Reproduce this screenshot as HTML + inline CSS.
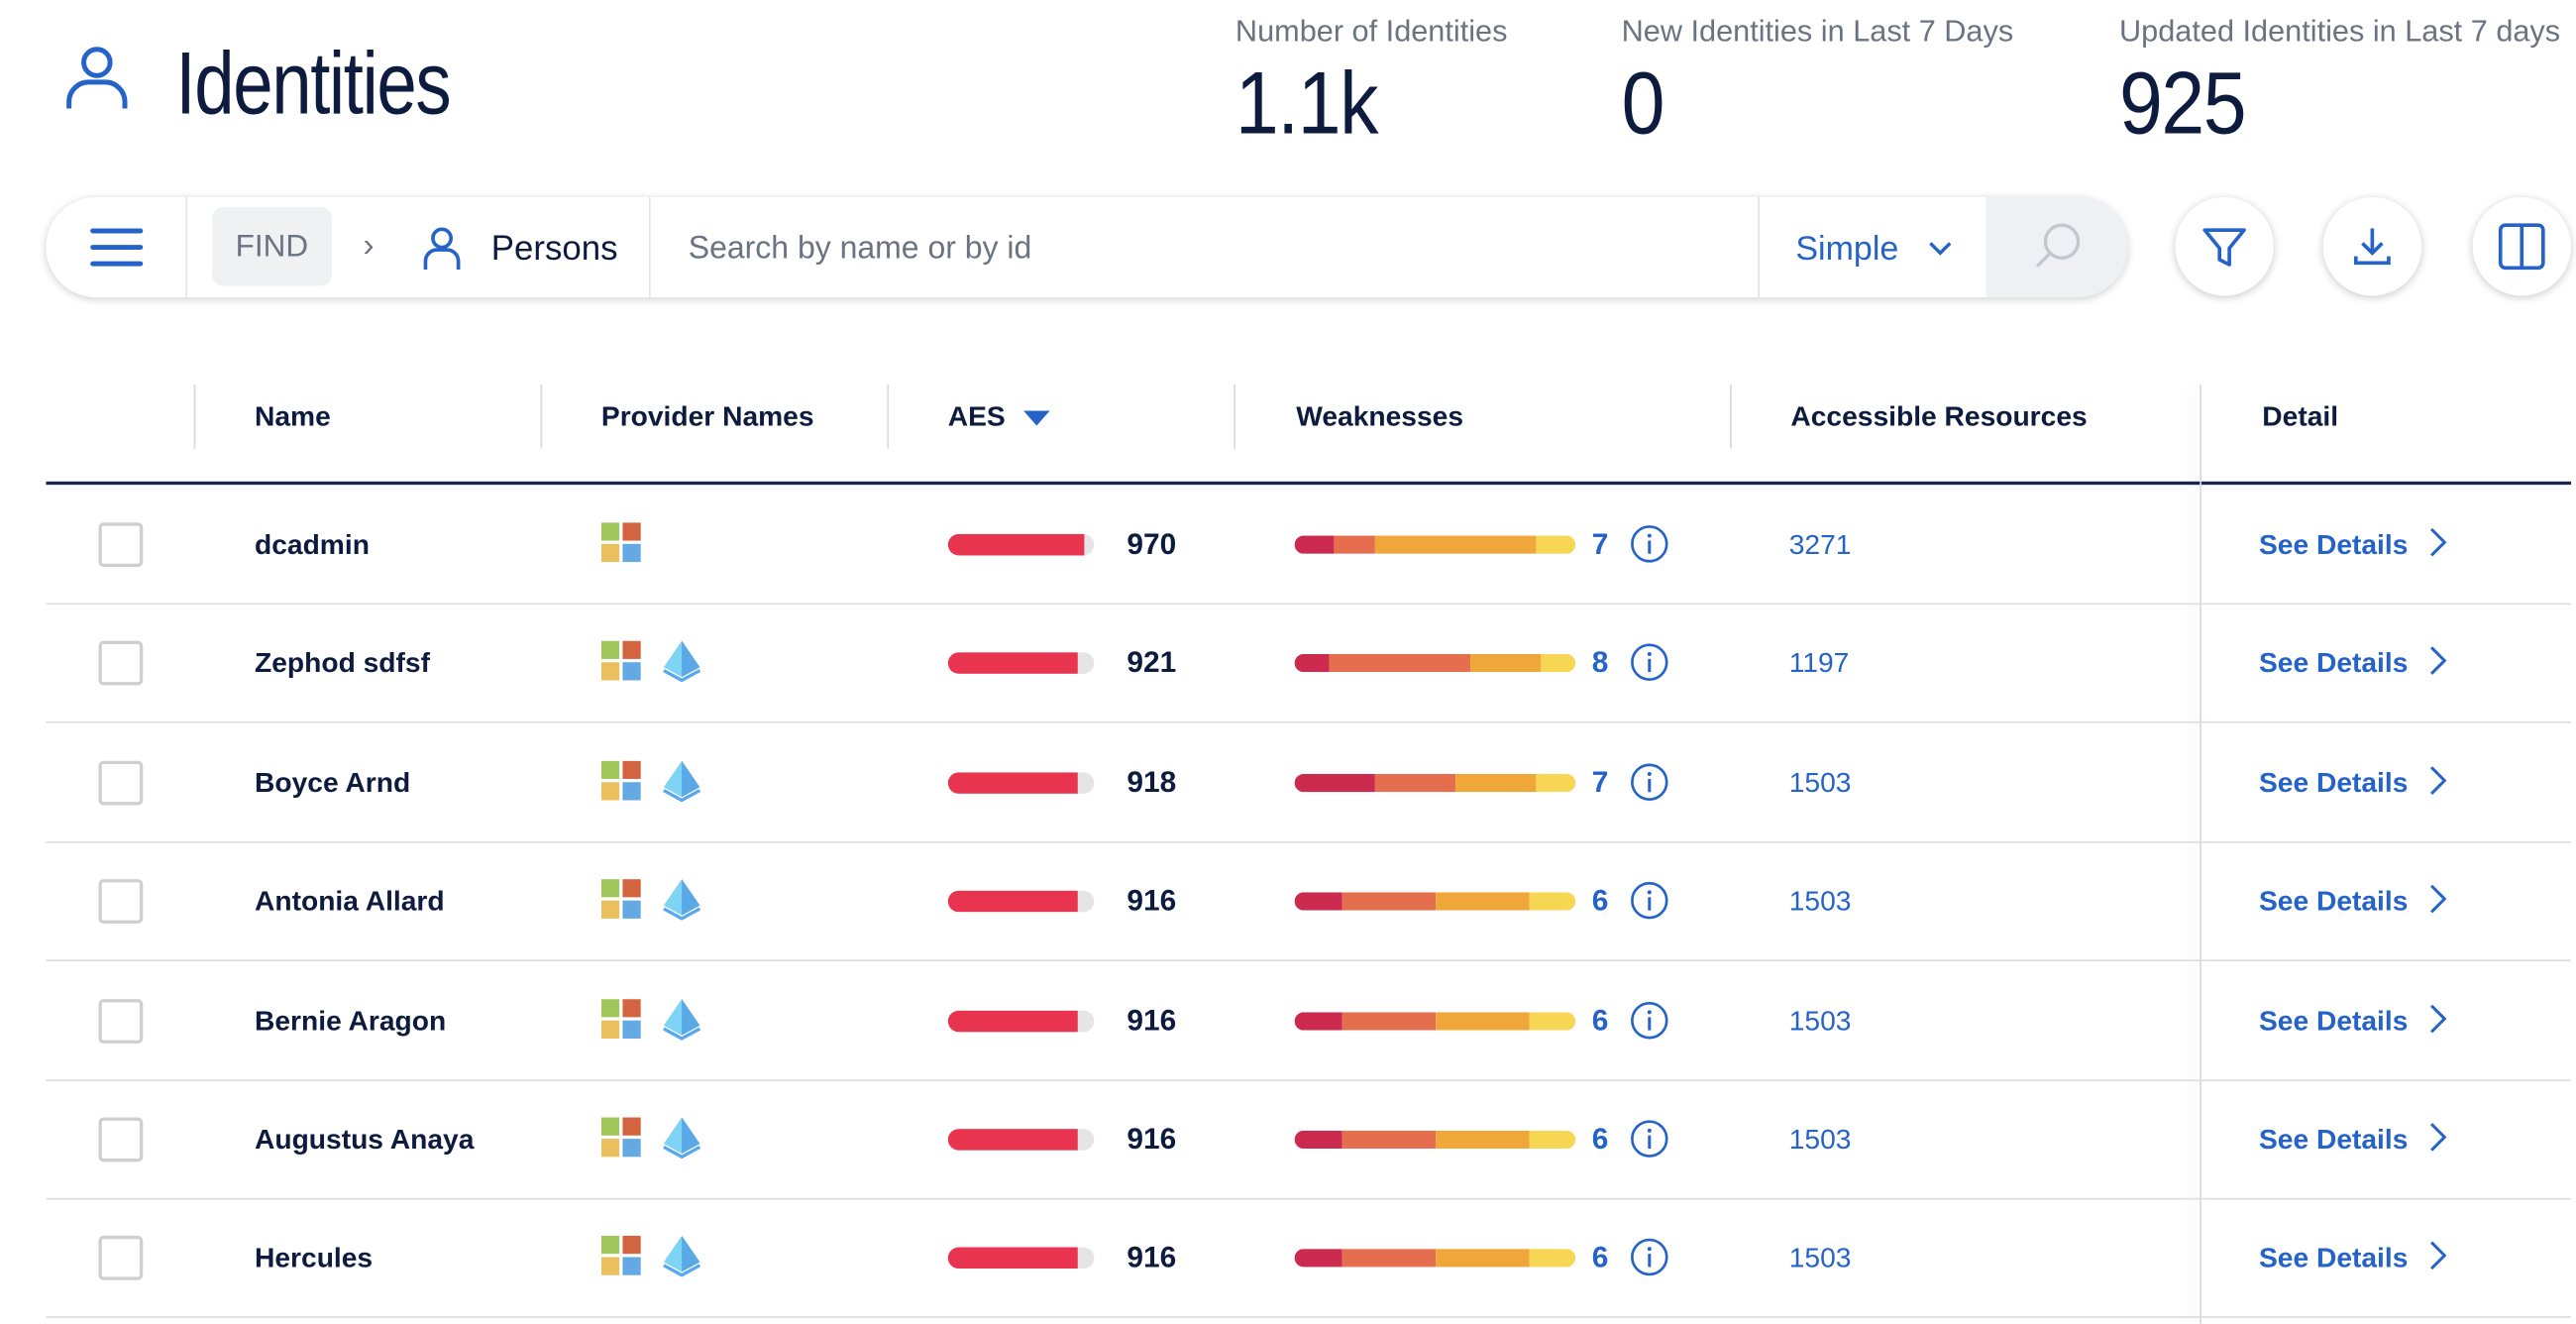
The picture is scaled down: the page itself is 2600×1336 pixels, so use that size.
<!DOCTYPE html>
<html><head><meta charset="utf-8"><style>
html,body{margin:0;padding:0;width:2600px;height:1336px;overflow:hidden;background:#fff}
#root{position:absolute;left:0;top:0;width:1568px;height:806px;transform:scale(1.65816);transform-origin:0 0;font-family:"Liberation Sans",sans-serif;color:#0d1b3e}
.abs{position:absolute}
.lbl{font-size:18.5px;color:#6b7280;white-space:nowrap}
.big{font-size:54px;color:#0d1b3e;white-space:nowrap;transform:scaleX(0.88);transform-origin:0 0;letter-spacing:-1px}
.hdr{font-size:17px;font-weight:bold;white-space:nowrap;top:244px}
.vdiv{position:absolute;top:234px;height:39px;width:1px;background:#d6d9de}
.circ{position:absolute;top:120px;width:60px;height:60px;border-radius:50%;background:#fff;box-shadow:0 1px 5px rgba(0,0,0,.22)}
</style></head><body>
<div id="root">
<svg class="abs" style="left:38px;top:26px" width="42" height="42" viewBox="0 0 42 42"><circle cx="21" cy="12" r="8" fill="none" stroke="#2563c9" stroke-width="3"/><path d="M4 40 V36 a12 12 0 0 1 12-12 h10 a12 12 0 0 1 12 12 V40" fill="none" stroke="#2563c9" stroke-width="3"/></svg>
<div class="abs" style="left:107px;top:20px;font-size:54px;white-space:nowrap;transform:scaleX(0.81);transform-origin:0 0;letter-spacing:-1px">Identities</div>

<div class="abs lbl" style="left:752px;top:8px">Number of Identities</div>
<div class="abs big" style="left:752px;top:32px">1.1k</div>
<div class="abs lbl" style="left:987px;top:8px">New Identities in Last 7 Days</div>
<div class="abs big" style="left:987px;top:32px">0</div>
<div class="abs lbl" style="left:1290px;top:8px">Updated Identities in Last 7 days</div>
<div class="abs big" style="left:1290px;top:32px">925</div>

<div class="abs" style="left:28px;top:120px;width:1267px;height:61px;border-radius:31px;background:#fff;box-shadow:0 1px 5px rgba(0,0,0,.2);overflow:hidden">
  <div class="abs" style="left:27px;top:19px;width:32px;height:24px">
    <div class="abs" style="left:0;top:0;width:32px;height:3px;background:#2563c9;border-radius:2px"></div>
    <div class="abs" style="left:0;top:10px;width:32px;height:3px;background:#2563c9;border-radius:2px"></div>
    <div class="abs" style="left:0;top:20px;width:32px;height:3px;background:#2563c9;border-radius:2px"></div>
  </div>
  <div class="abs" style="left:85px;top:0;width:1px;height:61px;background:#e1e4e8"></div>
  <div class="abs" style="left:101px;top:6px;width:73px;height:48px;border-radius:7px;background:#f0f1f3;color:#6b7280;font-size:19px;line-height:50px;text-align:center">FIND</div>
  <div class="abs" style="left:193px;top:19px;color:#6b7280;font-size:20px">›</div>
  <svg class="abs" style="left:229px;top:17px" width="24" height="28" viewBox="0 0 24 28"><circle cx="12" cy="8" r="5.5" fill="none" stroke="#2563c9" stroke-width="2.2"/><path d="M2 27 V22 a7 7 0 0 1 7-7 h6 a7 7 0 0 1 7 7 V27" fill="none" stroke="#2563c9" stroke-width="2.2"/></svg>
  <div class="abs" style="left:271px;top:20px;font-size:21px;color:#0d1b3e">Persons</div>
  <div class="abs" style="left:367px;top:0;width:1px;height:61px;background:#e1e4e8"></div>
  <div class="abs" style="left:391px;top:21px;font-size:19.3px;color:#6b7280">Search by name or by id</div>
  <div class="abs" style="left:1042px;top:0;width:1px;height:61px;background:#e1e4e8"></div>
  <div class="abs" style="left:1065px;top:20px;font-size:20.5px;color:#2563c9">Simple</div>
  <svg class="abs" style="left:1145px;top:26px" width="16" height="10" viewBox="0 0 16 10"><path d="M2 2 L8 8 L14 2" fill="none" stroke="#2563c9" stroke-width="2"/></svg>
  <div class="abs" style="left:1181px;top:0;width:86px;height:61px;background:#eef0f3">
    <svg class="abs" style="left:28px;top:14px" width="32" height="32" viewBox="0 0 32 32"><circle cx="18" cy="13" r="10" fill="none" stroke="#c3c8cf" stroke-width="2"/><path d="M11 20 L3 28" stroke="#c3c8cf" stroke-width="2"/></svg>
  </div>
</div>

<div class="circ" style="left:1324px"><svg class="abs" style="left:15px;top:15px" width="30" height="30" viewBox="0 0 30 30"><path d="M3 5 H27 L18 16 V26 L12 23 V16 Z" fill="none" stroke="#2563c9" stroke-width="2.2" stroke-linejoin="round"/></svg></div>
<div class="circ" style="left:1414px"><svg class="abs" style="left:15px;top:15px" width="30" height="30" viewBox="0 0 30 30"><path d="M15 4 V19 M9 13 L15 19 L21 13 M5 21 V25 H25 V21" fill="none" stroke="#2563c9" stroke-width="2.2"/></svg></div>
<div class="circ" style="left:1505px"><svg class="abs" style="left:14px;top:14px" width="32" height="32" viewBox="0 0 32 32"><rect x="3" y="3" width="26" height="26" rx="3" fill="none" stroke="#2563c9" stroke-width="2.2"/><path d="M16 3 V29" stroke="#2563c9" stroke-width="2.2"/></svg></div>

<div class="vdiv" style="left:118px"></div><div class="vdiv" style="left:329px"></div><div class="vdiv" style="left:540px"></div><div class="vdiv" style="left:751px"></div><div class="vdiv" style="left:1053px"></div>
<div class="abs hdr" style="left:155px">Name</div>
<div class="abs hdr" style="left:366px">Provider Names</div>
<div class="abs hdr" style="left:577px">AES</div>
<svg class="abs" style="left:623px;top:250px" width="16" height="10"><path d="M0 0 H16 L8 9 Z" fill="#2563c9"/></svg>
<div class="abs hdr" style="left:789px">Weaknesses</div>
<div class="abs hdr" style="left:1090px">Accessible Resources</div>
<div class="abs hdr" style="left:1377px">Detail</div>
<div class="abs" style="left:28px;top:293px;width:1537px;height:2px;background:#1a2550"></div>
<div class="abs" style="left:1339px;top:234px;width:1px;height:572px;background:#d6d9de;box-shadow:-4px 0 8px rgba(0,0,0,.12)"></div>
<div id="rows"></div>
</div>
<script>
const names=["dcadmin","Zephod sdfsf","Boyce Arnd","Antonia Allard","Bernie Aragon","Augustus Anaya","Hercules"];
const hasAzure=[false,true,true,true,true,true,true];
const aes=[970,921,918,916,916,916,916];
const weakCritical=[1,1,2,1,1,1,1];
const weakHigh=[1,4,2,2,2,2,2];
const weakMedium=[4,2,2,2,2,2,2];
const weakLow=[1,1,1,1,1,1,1];
const resources=[3271,1197,1503,1503,1503,1503,1503];
const root=document.getElementById('rows');
const ROW0=331, ROWH=72.4;
function rowY(i){return ROW0+i*ROWH;}
function aesX(v){return v/1000*86;}
function mk(html,style){const d=document.createElement('div');d.className='abs';d.style.cssText=style;if(html)d.innerHTML=html;root.appendChild(d);return d;}
const segColors=['#cc2a4f','#e56e4f','#f0a73a','#f7d654'];
for(let i=0;i<names.length;i++){
  const y=rowY(i);
  const sep=mk('', `left:28px;top:${y+36}px;width:1537px;height:1px;background:#dcdcdc`);
  
  
  const cb=mk('', `left:60px;top:${y-13}px;width:23px;height:23px;border:2px solid #cfcfcf;border-radius:3px;background:#fff`);
  
  
  const nm=mk(names[i], `left:155px;top:${y-9}px;font-size:17px;font-weight:bold;white-space:nowrap;color:#0d1b3e`);
  
  
  const ms=mk('<svg width="25" height="25"><rect x="0" y="0" width="11" height="11" fill="#a0c75a"/><rect x="13" y="0" width="11" height="11" fill="#d3643f"/><rect x="0" y="13" width="11" height="11" fill="#ebbf5b"/><rect x="13" y="13" width="11" height="11" fill="#64a8e4"/></svg>', `left:366px;top:${y-13}px;width:25px;height:25px`);
  
  
  if(hasAzure[i]){
    const az=mk('<svg width="26" height="26" viewBox="0 0 26 26"><path d="M13 1 L24 17 L13 23 L2 17 Z" fill="#7fd3f5"/><path d="M13 1 L24 17 L13 23 Z" fill="#5aa8e6"/><path d="M2 19 L13 25 L24 19" fill="none" stroke="#58a8ef" stroke-width="2"/></svg>', `left:402px;top:${y-14}px;width:26px;height:26px`);
    
    
  }
  const tr=mk('', `left:577px;top:${y-6}px;width:89px;height:13px;border-radius:7px;background:#e5e5e5;overflow:hidden`);
  
  
  const f=document.createElement('div');
  f.style.cssText=`position:absolute;left:0;top:0;height:13px;width:${aesX(aes[i])}px;background:#e8344f;border-radius:7px 0 0 7px`;
  
  
  tr.appendChild(f);
  const av=mk(String(aes[i]), `left:656px;width:60px;text-align:right;top:${y-10}px;font-size:18px;font-weight:bold;color:#0d1b3e`);
  
  
  const segs=[weakCritical[i],weakHigh[i],weakMedium[i],weakLow[i]];
  const tot=segs.reduce((a,b)=>a+b,0);
  const wb=mk('', `left:788px;top:${y-5}px;width:171px;height:11px;border-radius:6px;overflow:hidden;display:flex`);
  
  
  segs.forEach((c,k)=>{const s=document.createElement('div');s.style.cssText=`height:11px;width:${c/tot*171}px;background:${segColors[k]}`;
    
    
    wb.appendChild(s);});
  const wc=mk(String(tot), `left:969px;top:${y-10}px;font-size:18px;font-weight:bold;color:#2563c9`);
  
  
  const inf=mk('<svg width="24" height="24" viewBox="0 0 24 24"><circle cx="12" cy="12" r="10.5" fill="none" stroke="#2563c9" stroke-width="1.6"/><circle cx="12" cy="7" r="1.2" fill="#2563c9"/><path d="M12 10 V18" stroke="#2563c9" stroke-width="1.8"/></svg>', `left:992px;top:${y-12}px;width:24px;height:24px`);
  
  
  const rs=mk(String(resources[i]), `left:1089px;top:${y-9}px;font-size:17px;color:#2563c9`);
  
  
  const sd=mk('See Details <svg width="12" height="18" style="margin-left:8px;vertical-align:-2px"><path d="M2 1 L10 9 L2 17" fill="none" stroke="#2563c9" stroke-width="1.8"/></svg>', `left:1375px;top:${y-10}px;font-size:17px;font-weight:bold;color:#2563c9;white-space:nowrap`);
  
  
}
</script>
</body></html>
